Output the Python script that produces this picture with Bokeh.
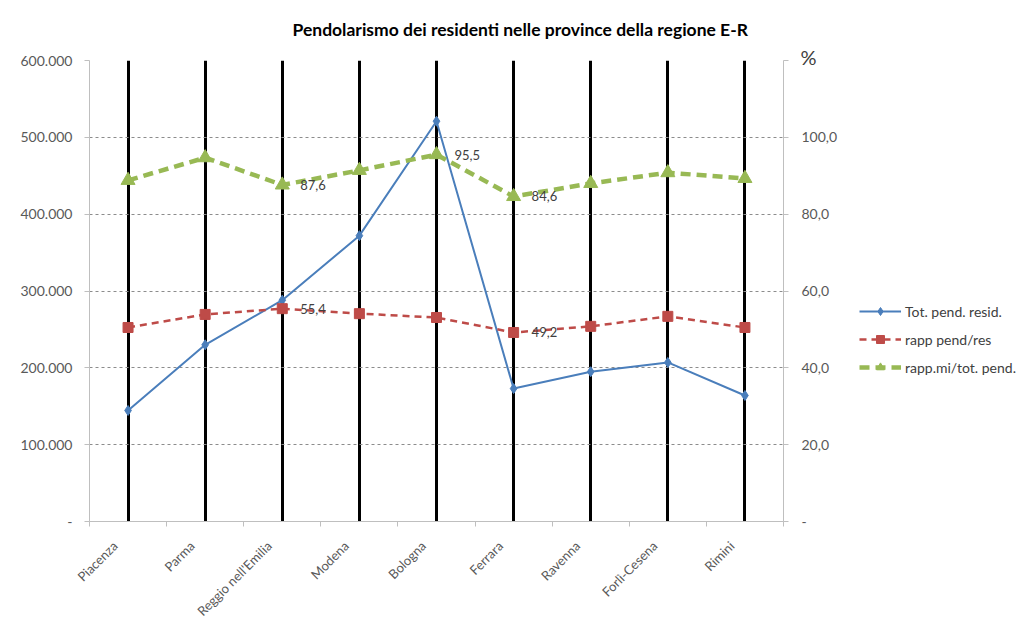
from bokeh.plotting import figure
from bokeh.models import (Range1d, LinearAxis, FixedTicker, Title, Legend, LegendItem,
                          ColumnDataSource, LabelSet)
from bokeh.embed import file_html
from bokeh.resources import INLINE
from bokeh.core.properties import value

categories = ["Piacenza", "Parma", "Reggio nell'Emilia", "Modena", "Bologna",
              "Ferrara", "Ravenna", "Forlì-Cesena", "Rimini"]
tot_pend = [144500, 230000, 288000, 372000, 521000, 173000, 195000, 207000, 164000]
rapp_pend_res = [50.5, 53.9, 55.4, 54.1, 53.1, 49.2, 50.8, 53.4, 50.5]
rapp_mi = [88.8, 94.7, 87.6, 91.4, 95.5, 84.6, 88.0, 90.8, 89.3]
red_labeled = [2, 5]
green_labeled = [2, 4, 5]

left_ticks = [0, 100000, 200000, 300000, 400000, 500000, 600000]
left_tick_labels = ["-", "100.000", "200.000", "300.000", "400.000", "500.000", "600.000"]
right_ticks = [0, 20, 40, 60, 80, 100, 120]
right_tick_labels = ["-", "20,0", "40,0", "60,0", "80,0", "100,0", ""]

FONT = "Lato"
TXT = "#595959"
AX = "#bfbfbf"

xs = list(range(len(categories)))
label_pos = [x - 0.17 for x in xs]   # rotated labels sit slightly left of the category centre

p = figure(frame_width=694, frame_height=461, min_border_left=89, min_border_right=225,
           min_border_top=60, min_border_bottom=94, output_backend="svg", title=None,
           toolbar_location=None, x_range=Range1d(-0.5, len(categories) - 0.5),
           y_range=Range1d(0, 600000))
p.extra_y_ranges = {"pct": Range1d(0, 120)}
p.outline_line_color = None
p.background_fill_color = "white"
p.border_fill_color = "white"

# x axis
xa = p.xaxis[0]
xa.ticker = FixedTicker(ticks=label_pos, minor_ticks=[x - 0.5 for x in xs] + [xs[-1] + 0.5])
xa.major_label_overrides = {x: c for x, c in zip(label_pos, categories)}
xa.major_label_orientation = 0.785398
xa.major_tick_line_color = None
xa.minor_tick_line_color = AX
xa.minor_tick_in = 0
xa.minor_tick_out = 5
xa.axis_line_color = AX
xa.major_label_text_font = FONT
xa.major_label_text_font_size = "13px"
xa.major_label_text_color = TXT
xa.major_label_standoff = 16

# left axis
ya = p.yaxis[0]
ya.ticker = FixedTicker(ticks=left_ticks, minor_ticks=[])
ya.major_label_overrides = {t: l for t, l in zip(left_ticks, left_tick_labels)}
ya.axis_line_color = AX
ya.major_tick_line_color = AX
ya.major_tick_in = 0
ya.major_tick_out = 5
ya.major_label_standoff = 12
ya.major_label_text_font = FONT
ya.major_label_text_font_size = "14px"
ya.major_label_text_color = TXT

# right axis
ra = LinearAxis(y_range_name="pct", ticker=FixedTicker(ticks=right_ticks, minor_ticks=[]))
ra.major_label_overrides = {t: l for t, l in zip(right_ticks, right_tick_labels)}
ra.axis_line_color = AX
ra.major_tick_line_color = AX
ra.major_tick_in = 0
ra.major_tick_out = 5
ra.major_label_standoff = 13
ra.major_label_text_font = FONT
ra.major_label_text_font_size = "14px"
ra.major_label_text_color = TXT
p.add_layout(ra, "right")

# grids
p.xgrid.ticker = FixedTicker(ticks=xs, minor_ticks=[])
p.xgrid.grid_line_color = "black"
p.xgrid.grid_line_width = 3
p.ygrid.ticker = FixedTicker(ticks=left_ticks[1:])
p.ygrid.grid_line_color = "#8c8c8c"
p.ygrid.grid_line_dash = "3 3"
p.ygrid.grid_line_width = 1

# series
blue = "#4a7ebb"
red = "#be4b48"
green = "#98b954"

src = ColumnDataSource(dict(x=xs, tot=tot_pend, res=rapp_pend_res, mi=rapp_mi))

l1 = p.line("x", "tot", source=src, line_color=blue, line_width=2)
m1 = p.scatter("x", "tot", source=src, marker="diamond", size=10, fill_color=blue, line_color=blue)

l2 = p.line("x", "res", source=src, y_range_name="pct", line_color=red, line_width=2.5,
            line_dash="7 5")
m2 = p.scatter("x", "res", source=src, y_range_name="pct", marker="square", size=10,
               fill_color=red, line_color=red)

l3 = p.line("x", "mi", source=src, y_range_name="pct", line_color=green, line_width=4.5,
            line_dash="10 6")
m3 = p.scatter("x", "mi", source=src, y_range_name="pct", marker="triangle", size=14,
               fill_color=green, line_color=green)

# data labels
def fmt(v):
    return f"{v:.1f}".replace(".", ",")

lab_src = ColumnDataSource(dict(
    x=[xs[i] for i in red_labeled] + [xs[i] for i in green_labeled],
    y=[rapp_pend_res[i] for i in red_labeled] + [rapp_mi[i] for i in green_labeled],
    t=[fmt(rapp_pend_res[i]) for i in red_labeled] + [fmt(rapp_mi[i]) for i in green_labeled],
))
p.add_layout(LabelSet(x="x", y="y", text="t", source=lab_src, y_range_name="pct",
                      x_offset=18, text_baseline="middle", text_font=value(FONT),
                      text_font_size="13px", text_color="#404040"))

# legend (outside, right of the right axis)
legend = Legend(items=[
    LegendItem(label="Tot. pend. resid.", renderers=[l1, m1]),
    LegendItem(label="rapp pend/res", renderers=[l2, m2]),
    LegendItem(label="rapp.mi/tot. pend.", renderers=[l3, m3]),
], location=(-210, 144))
legend.border_line_color = None
legend.background_fill_alpha = 0
legend.glyph_width = 42
legend.glyph_height = 20
legend.label_height = 20
legend.spacing = 8
legend.label_text_font = FONT
legend.label_text_font_size = "14px"
legend.label_text_color = "#404040"
legend.label_standoff = 4
legend.padding = 0
legend.margin = 0
p.add_layout(legend, "right")

# "%" marker and chart title (above the frame)
p.add_layout(Title(text="%", align="right", offset=-33, standoff=-16,
                   text_font=FONT, text_font_size="20px", text_font_style="normal",
                   text_color="#404040"), "above")
p.add_layout(Title(text="Pendolarismo dei residenti nelle province della regione E-R",
                   align="left", offset=203, standoff=22, text_font=FONT,
                   text_font_size="17.5px", text_font_style="bold", text_color="black"),
             "above")

open("out.html", "w").write(file_html(p, INLINE))
